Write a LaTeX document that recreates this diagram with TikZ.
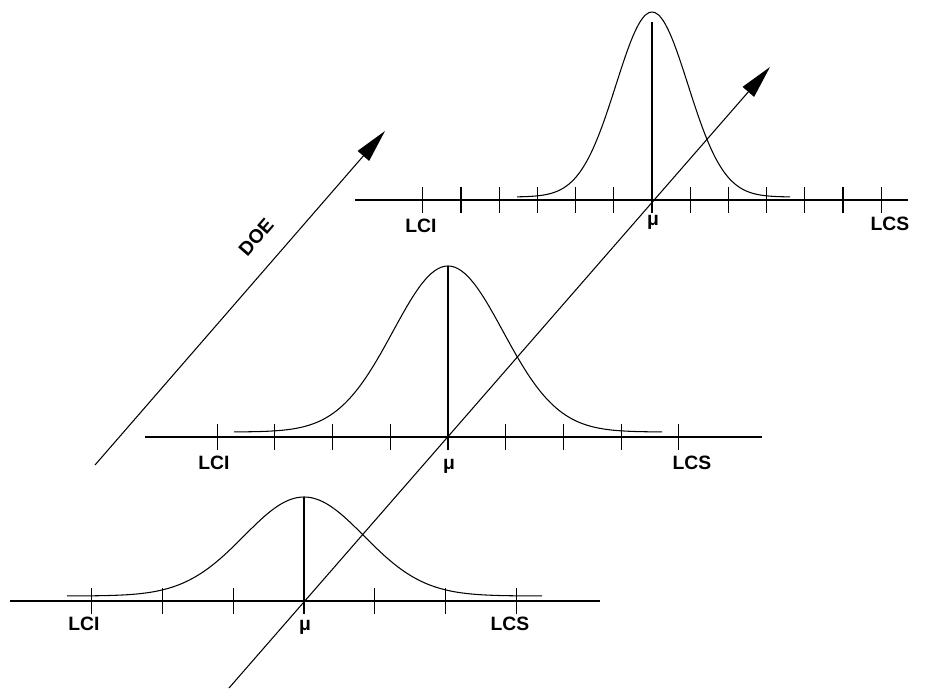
\documentclass[tikz,border=0pt]{standalone}
\usepackage{fontspec}
\newfontfamily\lblfont{Liberation Sans}
\usepackage{tikz}
\usetikzlibrary{arrows.meta, positioning}

\begin{document}
\begin{tikzpicture}[x=0.02cm, y=-0.02cm,
    axis/.style={line width=0.7pt},
    tickmark/.style={line width=0.6pt},
    curve/.style={line width=0.6pt},
    lbl/.style={font=\lblfont\fontsize{11}{12}\selectfont\bfseries, inner sep=0pt},
    arr/.style={-{Triangle[length=0.66cm, width=0.3cm]}, line width=0.6pt},
]
\useasboundingbox (0,0) rectangle (940,690);

% lower distribution
\coordinate (axAl) at (10,601);  \coordinate (axAr) at (600,601);
\coordinate (muA) at (304,601);  \coordinate (pkA) at (304,497);
\draw[axis] (axAl) -- (axAr);
\foreach \t in {-3,...,3} \draw[tickmark] ({304+70.7*\t},588) -- ++(0,26);
\draw[curve] plot[domain=-237:238, samples=90, smooth]
    ({304+\x}, {596-99*exp(-0.5*(\x/60)*(\x/60))});
\draw[curve] (muA) -- (pkA);
\node[lbl] (lciA) at (84,624)  {LCI};
\node[lbl] (mA)   at (305,627) {μ};
\node[lbl] (lcsA) at (510,624) {LCS};

% middle distribution
\coordinate (axBl) at (145,437); \coordinate (axBr) at (762,437);
\coordinate (muB) at (448,437);  \coordinate (pkB) at (448,266);
\draw[axis] (axBl) -- (axBr);
\foreach \t in {-4,...,4} \draw[tickmark] ({448+57.7*\t},424) -- ++(0,26);
\draw[curve] plot[domain=-214:214, samples=90, smooth]
    ({448+\x}, {432-166*exp(-0.5*(\x/55)*(\x/55))});
\draw[curve] (muB) -- (pkB);
\node[lbl] (lciB) at (214,463) {LCI};
\node[lbl] (mB)   at (449,466) {μ};
\node[lbl] (lcsB) at (692,463) {LCS};

% upper distribution
\coordinate (axCl) at (355,200); \coordinate (axCr) at (908,200);
\coordinate (muC) at (652,200);  \coordinate (pkC) at (652,22);
\draw[axis] (axCl) -- (axCr);
\foreach \t in {-6,...,6} \draw[tickmark] ({652+38.2*\t},187) -- ++(0,26);
\draw[curve] plot[domain=-135:138, samples=90, smooth]
    ({652+\x}, {197-185*exp(-0.5*(\x/36)*(\x/36))});
\draw[curve] (muC) -- (pkC);
\node[lbl] (lciC) at (421,226) {LCI};
\node[lbl] (mC)   at (653,222) {μ};
\node[lbl] (lcsC) at (890,224) {LCS};

% shift of the mean and DOE direction
\coordinate (drS) at (229,688); \coordinate (drE) at (770,67);
\draw[arr] (drS) -- (drE);
\coordinate (doeS) at (95,465); \coordinate (doeE) at (385,131);
\draw[arr] (doeS) -- (doeE);
\node[lbl, rotate=49] (doe) at (256,237) {DOE};
\end{tikzpicture}
\end{document}
